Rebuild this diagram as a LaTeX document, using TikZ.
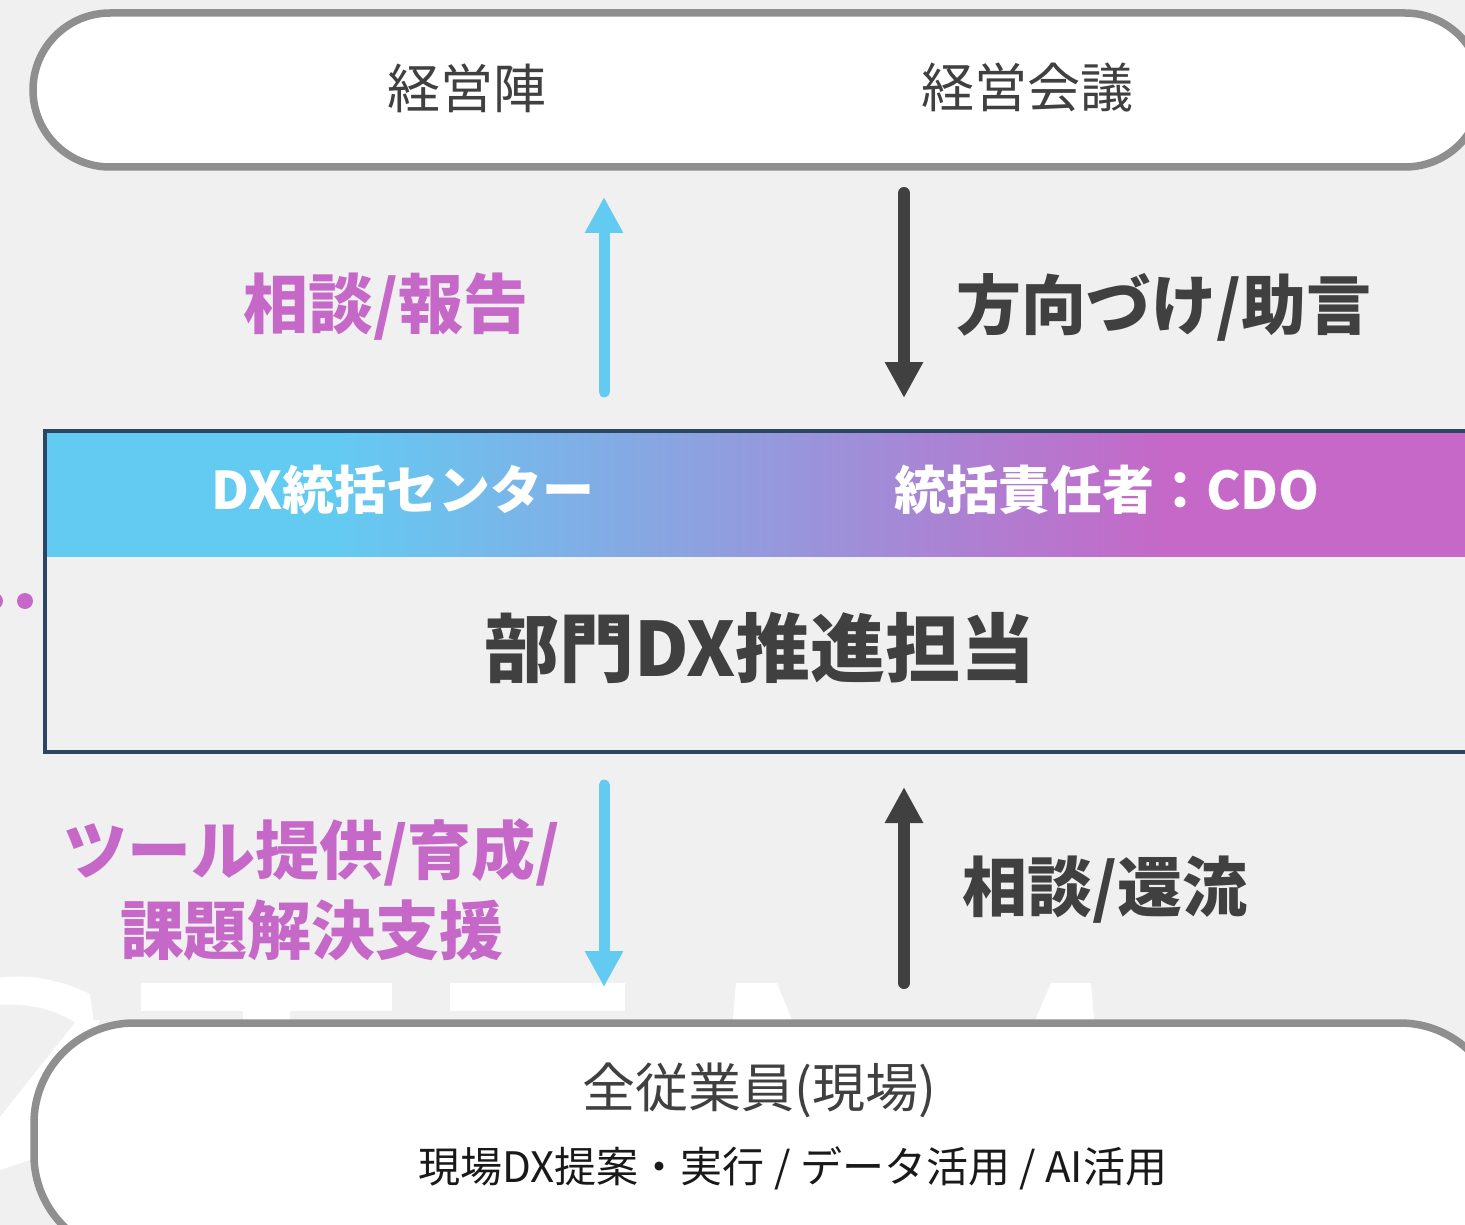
\documentclass[tikz,border=0pt]{standalone}
\usepackage{fontspec}
\setmainfont{Noto Sans CJK JP}
\usetikzlibrary{arrows.meta,positioning}
\definecolor{bgray}{HTML}{F0F0F0}
\definecolor{frame}{HTML}{8F8F8F}
\definecolor{ink}{HTML}{404040}
\definecolor{dxcyan}{HTML}{63CBF2}
\definecolor{dxmag}{HTML}{C568C8}
\definecolor{navy}{HTML}{2C4563}
\pgfdeclarehorizontalshading{dxbar}{100bp}{color(0bp)=(dxcyan); color(35bp)=(dxcyan); color(50bp)=(dxcyan!50!dxmag); color(64bp)=(dxmag); color(100bp)=(dxmag)}

\begin{document}
\begin{tikzpicture}[x=1pt,y=-1pt,
	pill/.style={draw=frame, line width=7.5pt, fill=white},
	tag/.style={inner sep=0pt, font=\fontsize{#1}{#1}\selectfont},
	btag/.style={inner sep=0pt, font=\fontsize{#1}{#1}\bfseries},
	flowc/.style={dxcyan, line width=11pt, line cap=round, -{Triangle[length=36pt,width=36pt]}},
	flowd/.style={ink, line width=12pt, line cap=round, -{Triangle[length=36pt,width=36pt]}}]
		\useasboundingbox (0,0) rectangle (1465,1225);
		\clip (0,0) rectangle (1465,1225);
		\fill[bgray] (0,0) rectangle (1465,1225);

		% watermark
		\fill[white] (-5,978) .. controls (35,973) and (65,982) .. (90,994) -- (96,1040) .. controls (70,1012) and (35,1002) .. (-5,1005) -- cycle;
		\fill[white] (77,1020) -- (100,1020) -- (60,1150) -- (0,1170) -- (0,1117) -- cycle;
		\fill[white] (141,983) rectangle (392,1011);
		\fill[white] (243,1011) rectangle (290,1030);
		\fill[white] (450,983) rectangle (625,1011);
		\fill[white] (736,983) -- (777,983) -- (796,1030) -- (732,1030) -- cycle;
		\fill[white] (1051,983) -- (1091,983) -- (1095,1030) -- (1031,1030) -- cycle;

		\draw[pill, rounded corners=77pt] (33,13) rectangle (1482,167);
		\draw[pill, rounded corners=100pt] (34,1023) rectangle (1500,1255);

		\shade[shading=dxbar] (45,431) rectangle (1480,556);
		\draw[navy, line width=3.5pt] (45,431) rectangle (1480,752);

		\fill[dxmag] (25,601) circle (8pt);
		\fill[dxmag] (-5,601) circle (8pt);

		\node[tag=53, text=ink] (board) at (467,88) {経営陣};
		\node[tag=53, text=ink] (meeting) at (1027,88) {経営会議};

		\node[btag=65, text=dxmag] (report) at (386,307) {相談/報告};
		\node[btag=65, text=ink] (advice) at (1164,307) {方向づけ/助言};

		\node[btag=52, text=white] (center) at (403,490) {DX統括センター};
		\node[btag=52, text=white] (cdo) at (1107,490) {統括責任者：CDO};
		\node[btag=75, text=ink] (dept) at (760,648) {部門DX推進担当};

		\node[btag=64, text=dxmag, align=center] (support) at (312,890) {ツール提供/育成/\\[12pt]課題解決支援};
		\node[btag=65, text=ink] (feedback) at (1105,890) {相談/還流};

		\node[tag=53, text=ink] (staff) at (759,1090) {全従業員(現場)};
		\node[tag=42, text=black!90] (field) at (793,1168) {現場DX提案・実行 / データ活用 / AI活用};

		\coordinate (r1) at (604,392);
		\coordinate (r2) at (604,197);
		\coordinate (a1) at (904,193);
		\coordinate (a2) at (904,398);
		\coordinate (s1) at (604,785);
		\coordinate (s2) at (604,987);
		\coordinate (f1) at (904,983);
		\coordinate (f2) at (904,787);
		\draw[flowc] (r1) -- (r2);
		\draw[flowd] (a1) -- (a2);
		\draw[flowc] (s1) -- (s2);
		\draw[flowd] (f1) -- (f2);
	\end{tikzpicture}
\end{document}
